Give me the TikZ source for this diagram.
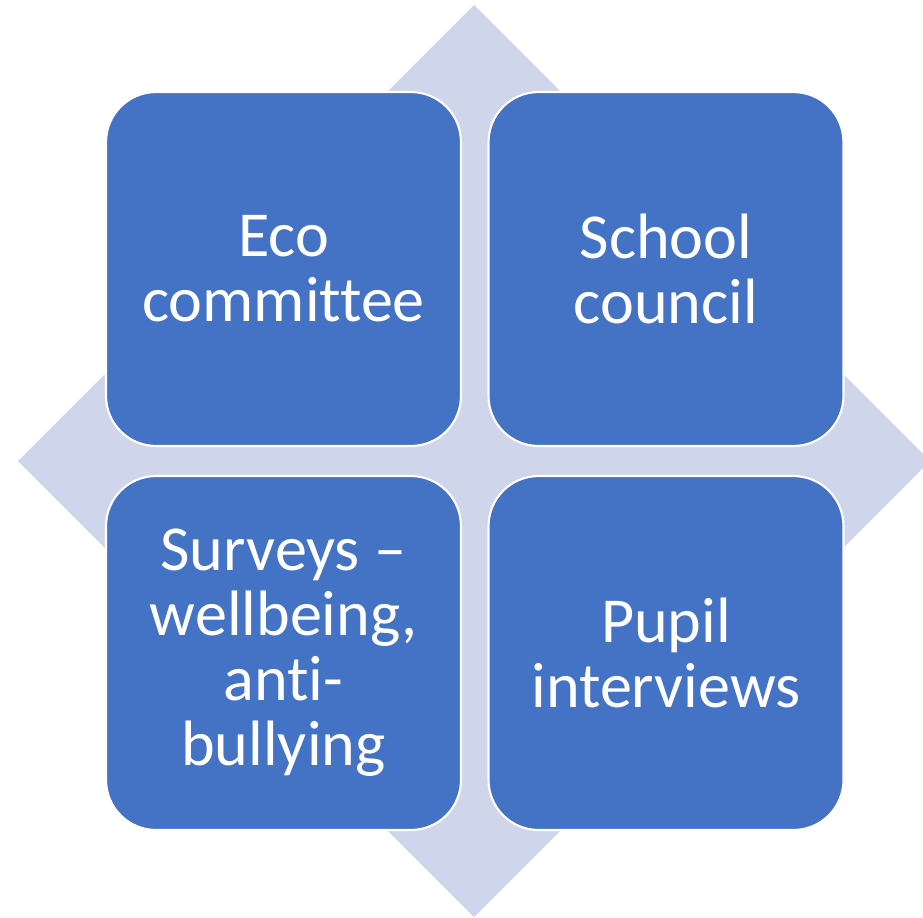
\documentclass[tikz,border=0pt]{standalone}
\usepackage{fontspec}
\setmainfont{Carlito}[Ligatures=NoCommon]
\definecolor{tileblue}{HTML}{4472C4}
\definecolor{diamondgrey}{HTML}{CFD5EA}
\begin{document}
\begin{tikzpicture}[x=0.02cm,y=-0.02cm]
% Estilos
\tikzstyle{tile} = [rectangle, rounded corners=1cm, minimum width=7.1cm, minimum height=7.08cm, fill=tileblue, draw=white, line width=1.2pt, text=white, align=center, font=\fontsize{36.5}{37}\selectfont]

\useasboundingbox (0,0) rectangle (923,917);

% Rombo de fondo
\fill[diamondgrey] (474,5) -- (930,461) -- (474,917) -- (18,461) -- cycle;

% Bloques
\node[tile] (eco) at (283.5,269) {Eco\\committee};
\node[tile] (council) at (666,269) {School\\council};
\node[tile] (surveys) at (283.5,653) {Surveys --\\wellbeing,\\anti-\\bullying};
\node[tile] (interviews) at (666,653) {Pupil\\interviews};
\end{tikzpicture}
\end{document}
